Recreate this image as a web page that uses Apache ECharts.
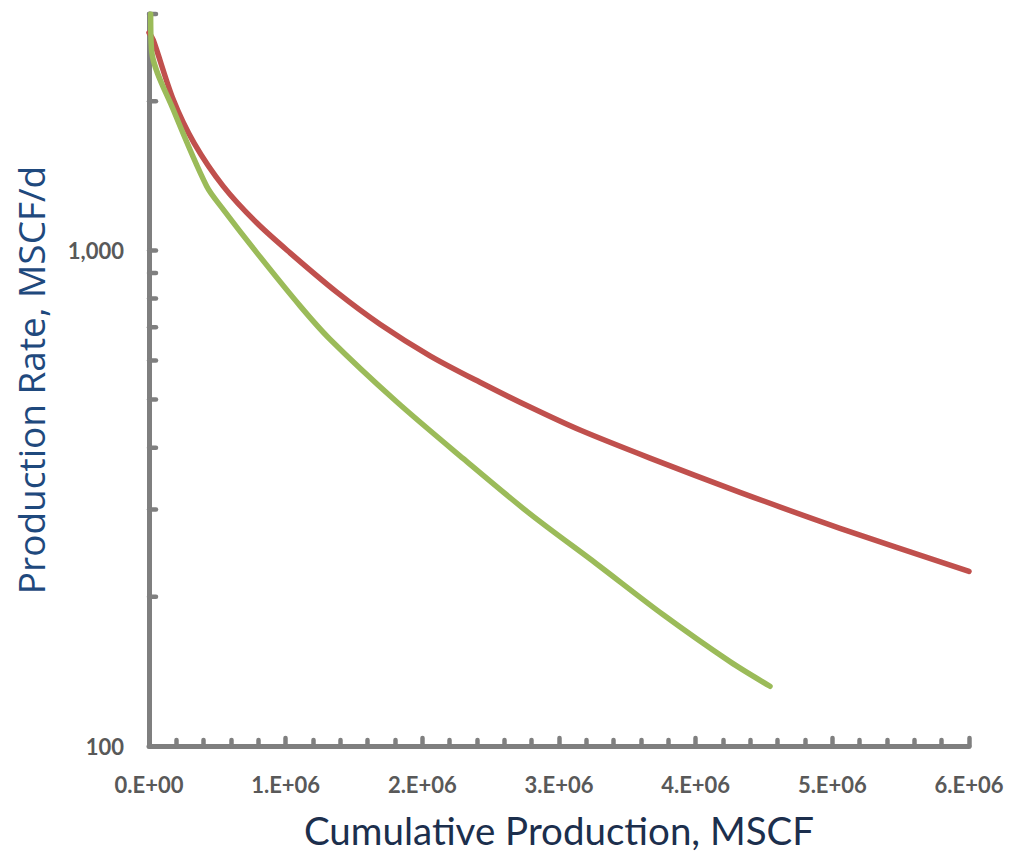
<!DOCTYPE html>
<html>
<head>
<meta charset="utf-8">
<title>Production Rate vs Cumulative Production</title>
<script src="https://cdn.jsdelivr.net/npm/echarts@6/dist/echarts.min.js"></script>
<style>
  html, body { margin: 0; padding: 0; background: #ffffff; }
  #chart { width: 1010px; height: 854px; }
</style>
</head>
<body>
<div id="chart"></div>
<script>
// Cumulative production (MSCF) and rate (MSCF/d) for the two decline curves
const redCum = [0, 31000, 178000, 330000, 544000, 788000, 1032000, 1376000, 1690000,
  2056000, 2422000, 2788000, 3154000, 3666000, 4324000, 5056000, 6000000];
const redRate = [2750, 2658, 2014, 1647, 1347, 1137, 989, 823, 710,
  613, 542, 483, 434, 381, 325, 275, 225];

const greenCum = [12000, 20000, 178000, 422000, 544000, 788000, 1105000, 1324000,
  1812000, 2300000, 2788000, 3276000, 3763000, 4251000, 4544000];
const greenRate = [3000, 2518, 1922, 1347, 1209, 990, 773, 662,
  495, 380, 294, 233, 184, 148, 132];

// Axis ticks and labels
const xTickLabels = ['0.E+00', '1.E+06', '2.E+06', '3.E+06', '4.E+06', '5.E+06', '6.E+06'];
const yTickValues = [200, 300, 400, 500, 600, 700, 800, 900, 1000, 2000, 3000];
const yLabelText = { 100: '100', 1000: '1,000' };

const axisGrey = '#7f7f7f';
const labelGrey = '#595959';

const zip = (xs, ys) => xs.map((x, i) => [x, ys[i]]);

const chart = echarts.init(document.getElementById('chart'), null, { renderer: 'svg' });

chart.setOption({
  animation: false,
  backgroundColor: '#ffffff',
  grid: { left: 149, right: 41, top: 14, bottom: 107 },
  xAxis: {
    type: 'value',
    min: 0,
    max: 6000000,
    interval: 1000000,
    name: 'Cumulative Production, MSCF',
    nameLocation: 'middle',
    nameGap: 64,
    nameTextStyle: { fontFamily: 'Lato', fontSize: 38.5, color: '#1c2f4d' },
    axisLine: { show: true, lineStyle: { color: axisGrey, width: 5, cap: 'round' } },
    axisTick: { show: true, inside: true, length: 8, lineStyle: { color: axisGrey, width: 4.5, cap: 'round' } },
    minorTick: { show: true, splitNumber: 5, length: 6, lineStyle: { color: axisGrey, width: 4.5, cap: 'round' } },
    splitLine: { show: false },
    axisLabel: {
      margin: 27,
      fontFamily: 'Lato',
      fontWeight: 'bold',
      fontSize: 22,
      color: labelGrey,
      formatter: v => xTickLabels[Math.round(v / 1000000)] || ''
    }
  },
  yAxis: {
    type: 'log',
    logBase: 10,
    min: 100,
    max: 3000,
    name: 'Production Rate, MSCF/d',
    nameLocation: 'middle',
    nameGap: 100,
    nameRotate: 90,
    nameTextStyle: { fontFamily: 'Open Sans', fontSize: 37, color: '#1f497d' },
    axisLine: { show: true, lineStyle: { color: axisGrey, width: 5, cap: 'round' } },
    axisTick: { show: false },
    splitLine: { show: false },
    axisLabel: {
      margin: 25,
      fontFamily: 'Lato',
      fontWeight: 'bold',
      fontSize: 22,
      color: labelGrey,
      showMaxLabel: false,
      formatter: v => {
        const k = Math.round(v);
        return yLabelText[k] || '';
      }
    }
  },
  series: [
    {
      // inward tick marks on the logarithmic rate axis
      type: 'custom',
      silent: true,
      clip: false,
      z: 1,
      data: yTickValues.map(v => [0, v]),
      renderItem: (params, api) => {
        const p = api.coord([api.value(0), api.value(1)]);
        return {
          type: 'line',
          shape: { x1: p[0], y1: p[1], x2: p[0] + 7, y2: p[1] },
          style: { stroke: axisGrey, lineWidth: 4.5, lineCap: 'round' }
        };
      }
    },
    {
      name: 'Red',
      type: 'line',
      data: zip(redCum, redRate),
      showSymbol: false,
      smooth: 0.3,
      z: 3,
      lineStyle: { color: '#c0504d', width: 5.5, cap: 'round', join: 'round' },
      itemStyle: { color: '#c0504d' }
    },
    {
      name: 'Green',
      type: 'line',
      data: zip(greenCum, greenRate),
      showSymbol: false,
      smooth: 0.3,
      z: 4,
      lineStyle: { color: '#9bbb59', width: 5.5, cap: 'round', join: 'round' },
      itemStyle: { color: '#9bbb59' }
    }
  ]
});
</script>
</body>
</html>
